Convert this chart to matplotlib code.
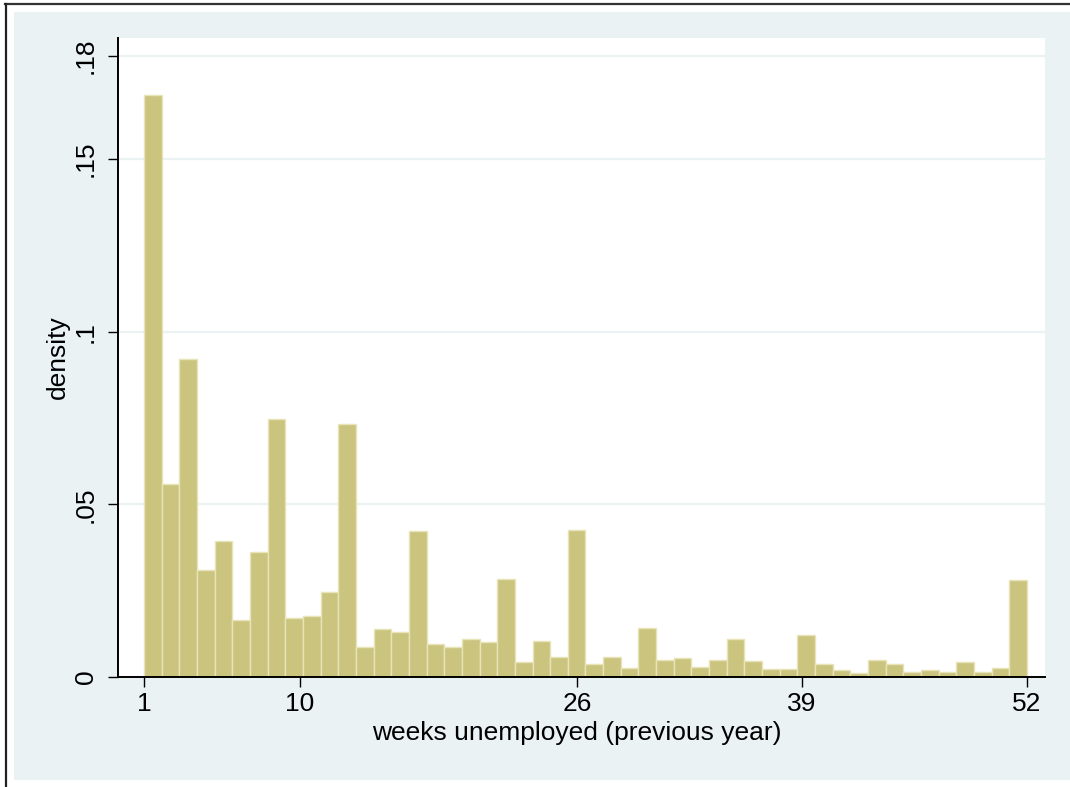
import numpy as np
import matplotlib
matplotlib.use('Agg')
import matplotlib.pyplot as plt
from matplotlib.patches import Rectangle
from matplotlib.lines import Line2D

plt.rcParams['font.family'] = ['Liberation Sans', 'DejaVu Sans']

# histogram: 50 bins from 1 to 52 weeks
bin_edges = np.linspace(1, 52, 51)
density = [
    0.1686, 0.0558, 0.0922, 0.0311, 0.0395, 0.0166, 0.0363, 0.0748, 0.0172, 0.0178,
    0.0245, 0.0733, 0.0086, 0.0138, 0.0130, 0.0423, 0.0095, 0.0087, 0.0109, 0.0102,
    0.0283, 0.0044, 0.0103, 0.0057, 0.0427, 0.0039, 0.0057, 0.0026, 0.0142, 0.0048,
    0.0055, 0.0028, 0.0049, 0.0110, 0.0046, 0.0023, 0.0022, 0.0122, 0.0038, 0.0021,
    0.0012, 0.0049, 0.0038, 0.0015, 0.0020, 0.0014, 0.0043, 0.0014, 0.0026, 0.0281,
]
x_ticks = [1, 10, 26, 39, 52]
y_ticks = [0, 0.05, 0.1, 0.15, 0.18]
y_tick_labels = ['0', '.05', '.1', '.15', '.18']

W, H = 1070, 787
fig = plt.figure(figsize=(W / 100, H / 100), dpi=100, facecolor='white')

# stata-like outer background and frame
fig.patches.append(Rectangle((14 / W, 1 - 780 / H), 1 - 14 / W, (780 - 12) / H,
                             transform=fig.transFigure, facecolor='#EAF2F3',
                             edgecolor='none', zorder=-5))
fig.lines.append(Line2D([5 / W, 1], [1 - 4 / H, 1 - 4 / H], transform=fig.transFigure,
                        color='#333333', linewidth=1.6, zorder=-4))
fig.lines.append(Line2D([6 / W, 6 / W], [0, 1 - 4 / H], transform=fig.transFigure,
                        color='#222222', linewidth=1.6, zorder=-4))

ax = fig.add_axes([118 / W, 1 - 677 / H, (1045 - 118) / W, (677 - 38) / H], zorder=1)
ax.set_facecolor('white')

ax.bar(bin_edges[:-1], density, width=np.diff(bin_edges), align='edge',
       color='#CBC47F', edgecolor='#E8E4B8', linewidth=1.0, zorder=2)

ax.set_xlim(-0.5, 53.04)
ax.set_ylim(0, 0.1851)

ax.set_yticks(y_ticks)
ax.set_yticklabels(y_tick_labels, rotation=90, va='center')
ax.set_xticks(x_ticks)
ax.set_xticklabels([str(t) for t in x_ticks])

ax.yaxis.grid(True, color='#EAF2F3', linewidth=1.6, zorder=0)
ax.set_axisbelow(True)

for s in ['top', 'right']:
    ax.spines[s].set_visible(False)
for s in ['left', 'bottom']:
    ax.spines[s].set_linewidth(1.4)
    ax.spines[s].set_color('black')

ax.tick_params(axis='both', direction='out', length=7.5, width=1.0, labelsize=19,
               colors='black')
ax.tick_params(axis='y', pad=7)
ax.tick_params(axis='x', pad=3)

fig.text(58 / W, 1 - 357 / H, 'density', rotation=90, ha='center', va='center',
         fontsize=19)
fig.text(577 / W, 1 - 733 / H, 'weeks unemployed (previous year)', ha='center',
         va='center', fontsize=19)

fig.savefig('out.png', dpi=100, facecolor='white')
